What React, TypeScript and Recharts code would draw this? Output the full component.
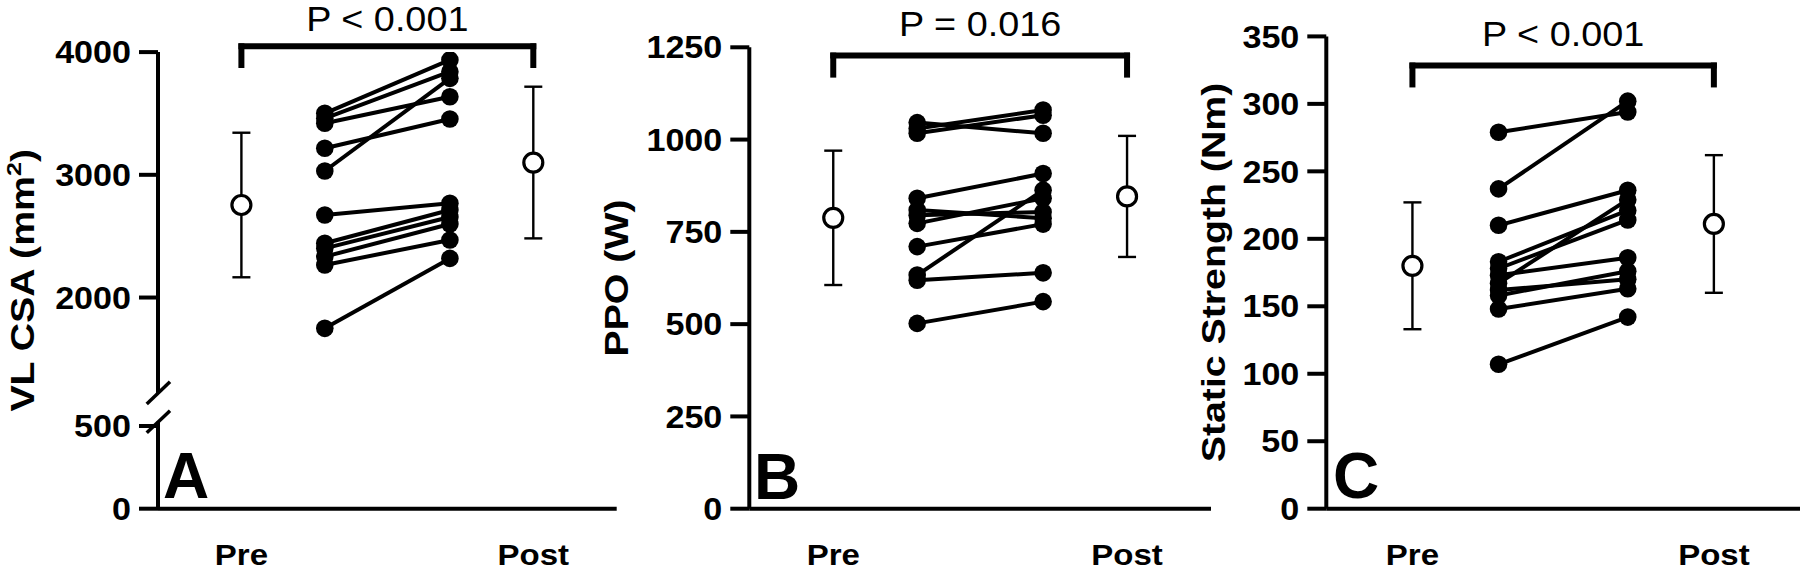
import React from 'react';
import { ComposedChart, Line, Scatter, ErrorBar, XAxis, YAxis, ReferenceLine } from 'recharts';

const FONT = '"Liberation Sans", Arial, Helvetica, sans-serif';

// positions along the x axis: group mean, paired points, paired points, group mean
const stageTicks = [1, 4.5];
const stageLabels = ['Pre', 'Post'];
const pairX = [2, 3.5];
const xDomain = [0, 5.5];

// A - VL CSA (mm2)
const csaPre = [3501, 3460, 3420, 3216, 3031, 2672, 2442, 2401, 2333, 2265, 1749];
const csaPost = [3936, 3840, 3636, 3455, 3786, 2768, 2713, 2656, 2599, 2469, 2319];
const csaMean = [2754, 3100];
const csaSd = [589, 618];
const csaTicksHigh = [2000, 3000, 4000];
const csaTicksLow = [0, 500];

// B - PPO (W)
const ppoPre = [1046, 1030, 1017, 841, 809, 795, 773, 710, 633, 619, 502];
const ppoPost = [1017, 1080, 1066, 908, 787, 804, 841, 771, 863, 639, 561];
const ppoMean = [788, 846];
const ppoSd = [182, 164];
const ppoTicks = [0, 250, 500, 750, 1000, 1250];

// C - Static strength (Nm)
const strPre = [279, 237, 210, 183, 178, 173, 167, 162, 158, 148, 107];
const strPost = [294, 302, 236, 221, 214, 186, 229, 170, 176, 163, 142];
const strMean = [180, 211];
const strSd = [47, 51];
const strTicks = [0, 50, 100, 150, 200, 250, 300, 350];

const AXIS = { stroke: '#000', strokeWidth: 4 };

const yTick = (props: any) => {
  const { x, y, payload } = props;
  return (
    <text
      transform={`translate(${x},${y}) scale(1.1,1)`}
      textAnchor="end"
      dy="0.36em"
      fontSize={31}
      fontWeight={700}
      fontFamily={FONT}
      fill="#000"
    >
      {payload.value}
    </text>
  );
};

const xTick = (props: any) => {
  const { x, y, payload } = props;
  return (
    <text
      transform={`translate(${x},${y}) scale(1.1,1)`}
      textAnchor="middle"
      dy="0.72em"
      fontSize={30}
      fontWeight={700}
      fontFamily={FONT}
      fill="#000"
    >
      {stageLabels[stageTicks.indexOf(payload.value)]}
    </text>
  );
};

const OpenCircle = (props: any) => (
  <circle cx={props.cx} cy={props.cy} r={9.5} fill="#fff" stroke="#000" strokeWidth={3.2} />
);

function PLabel(props: any) {
  const { viewBox, pText, gap } = props;
  const cx = viewBox.x + viewBox.width / 2;
  return (
    <text
      transform={`translate(${cx},${viewBox.y - gap}) scale(1.08,1)`}
      textAnchor="middle"
      fontSize={35}
      fontFamily={FONT}
      fill="#000"
    >
      {pText}
    </text>
  );
}

function pairedLines(pre: number[], post: number[]) {
  return pre.map((v, i) => (
    <Line
      key={`pair-${i}`}
      data={[
        { x: pairX[0], y: v },
        { x: pairX[1], y: post[i] },
      ]}
      dataKey="y"
      type="linear"
      stroke="#000"
      strokeWidth={4}
      dot={{ r: 8.8, fill: '#000', stroke: '#000', strokeWidth: 0 }}
      activeDot={false}
      isAnimationActive={false}
    />
  ));
}

function meanPoints(mean: number[], sd: number[]) {
  const data = stageTicks.map((x, i) => ({ x, y: mean[i], sd: sd[i] }));
  return (
    <Scatter key="means" data={data} shape={OpenCircle} isAnimationActive={false}>
      <ErrorBar dataKey="sd" direction="y" width={9} stroke="#000" strokeWidth={2.4} />
    </Scatter>
  );
}

// significance bracket between the two group means
function bracket(barY: number, legY: number, pText: string, gap = 19.5) {
  const common = { stroke: '#000', strokeWidth: 6, strokeLinecap: 'square' as const, ifOverflow: 'visible' as const };
  return [
    <ReferenceLine key="b-left" segment={[{ x: stageTicks[0], y: legY }, { x: stageTicks[0], y: barY }]} {...common} />,
    <ReferenceLine key="b-right" segment={[{ x: stageTicks[1], y: legY }, { x: stageTicks[1], y: barY }]} {...common} />,
    <ReferenceLine
      key="b-bar"
      segment={[{ x: stageTicks[0], y: barY }, { x: stageTicks[1], y: barY }]}
      {...common}
      label={<PLabel pText={pText} gap={gap} />}
    />,
  ];
}

function SimplePanel(p: {
  left: number;
  width: number;
  yWidth: number;
  top: number;
  right: number;
  domain: number[];
  ticks: number[];
  pre: number[];
  post: number[];
  mean: number[];
  sd: number[];
  barY: number;
  legY: number;
  pText: string;
}) {
  return (
    <div style={{ position: 'absolute', left: p.left, top: 0 }}>
      <ComposedChart width={p.width} height={571} margin={{ top: p.top, right: p.right, bottom: 0, left: 0 }}>
        <XAxis
          type="number"
          dataKey="x"
          domain={xDomain}
          ticks={stageTicks}
          allowDataOverflow
          tick={xTick}
          tickLine={false}
          tickSize={0}
          tickMargin={35}
          height={62.3}
          axisLine={AXIS}
        />
        <YAxis
          type="number"
          dataKey="y"
          domain={p.domain}
          ticks={p.ticks}
          allowDataOverflow
          width={p.yWidth}
          tick={yTick}
          tickSize={19}
          tickMargin={8}
          tickLine={AXIS}
          axisLine={AXIS}
        />
        {bracket(p.barY, p.legY, p.pText)}
        {pairedLines(p.pre, p.post)}
        {meanPoints(p.mean, p.sd)}
      </ComposedChart>
    </div>
  );
}

export default function App() {
  return (
    <div style={{ position: 'absolute', left: 0, top: 0, width: 1800, height: 571, background: '#fff', overflow: 'hidden' }}>
      {/* Panel A, upper part of the broken axis */}
      <div style={{ position: 'absolute', left: 0, top: 0 }}>
        <ComposedChart width={620} height={410} margin={{ top: 52.1, right: 3.3, bottom: 17, left: 0 }}>
          <XAxis type="number" dataKey="x" domain={xDomain} allowDataOverflow hide />
          <YAxis
            type="number"
            dataKey="y"
            domain={[1222, 4000]}
            ticks={csaTicksHigh}
            allowDataOverflow
            width={158}
            tick={yTick}
            tickSize={19}
            tickMargin={8}
            tickLine={AXIS}
            axisLine={AXIS}
          />
          <ReferenceLine
            segment={[{ x: -0.135, y: 1132 }, { x: 0.144, y: 1314 }]}
            stroke="#000"
            strokeWidth={3.5}
            ifOverflow="visible"
          />
          {bracket(4047, 3895, 'P < 0.001', 15)}
          {pairedLines(csaPre, csaPost)}
          {meanPoints(csaMean, csaSd)}
        </ComposedChart>
      </div>
      {/* Panel A, lower part of the broken axis */}
      <div style={{ position: 'absolute', left: 0, top: 380 }}>
        <ComposedChart width={620} height={191} margin={{ top: 41.7, right: 3.3, bottom: 0, left: 0 }}>
          <XAxis
            type="number"
            dataKey="x"
            domain={xDomain}
            ticks={stageTicks}
            allowDataOverflow
            tick={xTick}
            tickLine={false}
            tickSize={0}
            tickMargin={35}
            height={62.3}
            axisLine={AXIS}
          />
          <YAxis
            type="number"
            dataKey="y"
            domain={[0, 526]}
            ticks={csaTicksLow}
            allowDataOverflow
            width={158}
            tick={yTick}
            tickSize={19}
            tickMargin={8}
            tickLine={AXIS}
            axisLine={AXIS}
          />
          <ReferenceLine
            segment={[{ x: -0.135, y: 459.5 }, { x: 0.144, y: 592.5 }]}
            stroke="#000"
            strokeWidth={3.5}
            ifOverflow="visible"
          />
        </ComposedChart>
      </div>

      <SimplePanel
        left={600}
        width={615}
        yWidth={149.3}
        top={47.3}
        right={4}
        domain={[0, 1250]}
        ticks={ppoTicks}
        pre={ppoPre}
        post={ppoPost}
        mean={ppoMean}
        sd={ppoSd}
        barY={1227.5}
        legY={1176}
        pText="P = 0.016"
      />
      <SimplePanel
        left={1200}
        width={600}
        yWidth={126.3}
        top={36.4}
        right={0}
        domain={[0, 350]}
        ticks={strTicks}
        pre={strPre}
        post={strPost}
        mean={strMean}
        sd={strSd}
        barY={328.4}
        legY={314.4}
        pText="P < 0.001"
      />

      {/* axis titles and panel letters */}
      <svg width={1800} height={571} style={{ position: 'absolute', left: 0, top: 0, pointerEvents: 'none' }}>
        <g fontFamily={FONT} fontWeight={700} fill="#000">
          <text transform="translate(34,280.3) rotate(-90) scale(1.19,1)" textAnchor="middle" fontSize={33}>
            VL CSA (mm<tspan dy={-13} fontSize={21}>2</tspan>
            <tspan dy={13}>)</tspan>
          </text>
          <text transform="translate(628,278) rotate(-90) scale(1.19,1)" textAnchor="middle" fontSize={33}>
            PPO (W)
          </text>
          <text transform="translate(1225,272.5) rotate(-90) scale(1.19,1)" textAnchor="middle" fontSize={33}>
            Static Strength (Nm)
          </text>
          <text x={163} y={498} fontSize={64}>A</text>
          <text x={754} y={499} fontSize={64}>B</text>
          <text x={1333} y={498} fontSize={64}>C</text>
        </g>
      </svg>
    </div>
  );
}
